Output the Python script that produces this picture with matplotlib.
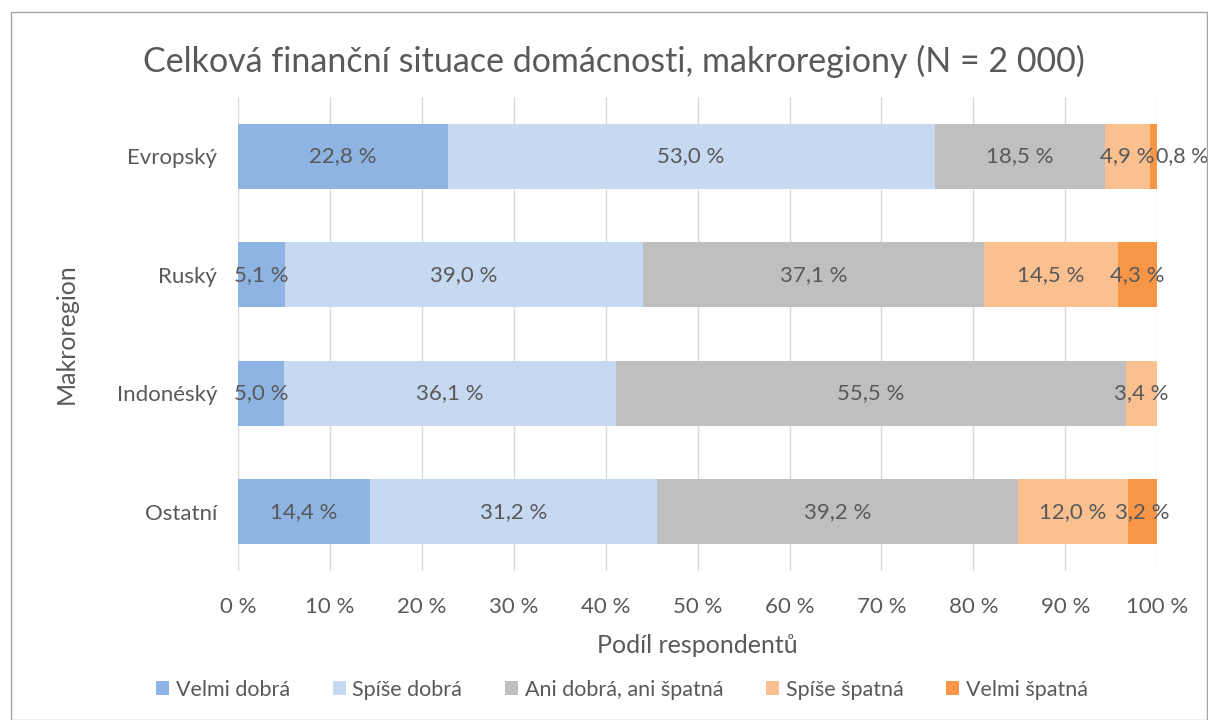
import matplotlib.pyplot as plt
from matplotlib.patches import Rectangle

plt.rcParams['font.family'] = ['Lato', 'DejaVu Sans']

regions = ['Evropský', 'Ruský', 'Indonéský', 'Ostatní']
categories = ['Velmi dobrá', 'Spíše dobrá', 'Ani dobrá, ani špatná', 'Spíše špatná', 'Velmi špatná']
values = [
    [22.8, 5.1, 5.0, 14.4],
    [53.0, 39.0, 36.1, 31.2],
    [18.5, 37.1, 55.5, 39.2],
    [4.9, 14.5, 3.4, 12.0],
    [0.8, 4.3, 0.0, 3.2],
]
colors = ['#8EB4E3', '#C6D9F1', '#BFBFBF', '#FAC090', '#F79646']
text_col = '#595959'

fig = plt.figure(figsize=(12.08, 7.2), dpi=100)
ax = fig.add_axes([0.197, 0.207, 0.761, 0.658])

ypos = list(range(len(regions)))[::-1]
left = [0.0] * len(regions)
for cat, vals, col in zip(categories, values, colors):
    ax.barh(ypos, vals, left=left, height=0.55, color=col, label=cat, zorder=2)
    for y, l, v in zip(ypos, left, vals):
        if v <= 0:
            continue
        lbl = f'{v:.1f} %'.replace('.', ',')
        if v < 2:
            # tiny segment: label sits just right of the bar end
            ax.text(l + v - 0.1, y, lbl, ha='left', va='center',
                    fontsize=15.5, color=text_col, zorder=3)
        else:
            ax.text(l + v / 2, y, lbl, ha='center', va='center',
                    fontsize=16, color=text_col, zorder=3)
    left = [a + b for a, b in zip(left, vals)]

ax.set_xlim(0, 100)
ax.set_ylim(-0.5, len(regions) - 0.5)
ax.set_xticks(range(0, 101, 10))
ax.set_xticklabels([f'{t} %' for t in range(0, 101, 10)])
ax.set_yticks(ypos)
ax.set_yticklabels(regions)
ax.tick_params(length=0, labelsize=16, colors=text_col)
ax.tick_params(axis='y', pad=15)
ax.tick_params(axis='x', pad=19)
ax.grid(axis='x', color='#D9D9D9', linewidth=1, zorder=0)
for s in ax.spines.values():
    s.set_visible(False)

ax.set_xlabel('Podíl respondentů', fontsize=18, color=text_col, labelpad=12)
ax.set_ylabel('Makroregion', fontsize=18, color=text_col, labelpad=28)
fig.text(0.508, 0.915, 'Celková finanční situace domácnosti, makroregiony (N = 2 000)',
         ha='center', va='center', fontsize=24.5, color=text_col)

fig.legend(loc='center', bbox_to_anchor=(0.515, 0.042), ncol=5, frameon=False,
           fontsize=15.5, labelcolor=text_col, handlelength=0.6, handleheight=0.6,
           handletextpad=0.3, columnspacing=2.0)

fig.patches.append(Rectangle((0.009, 0.0), 0.99, 0.983, transform=fig.transFigure,
                             fill=False, edgecolor='#A6A6A6', linewidth=1))

fig.savefig('out.png', dpi=100)
